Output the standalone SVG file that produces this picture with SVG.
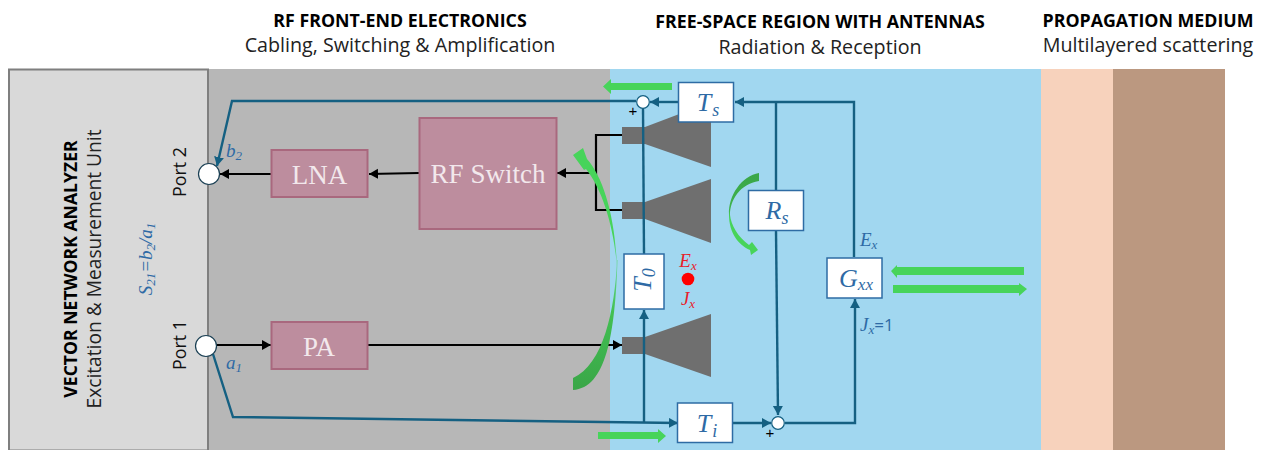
<svg xmlns="http://www.w3.org/2000/svg" width="1261" height="450" viewBox="0 0 1261 450">
<defs>
<marker id="ab" markerUnits="userSpaceOnUse" markerWidth="12" markerHeight="12" refX="9" refY="5" orient="auto"><path d="M0 0L9 5L0 10Z" fill="#000"/></marker>
<marker id="at" markerUnits="userSpaceOnUse" markerWidth="12" markerHeight="12" refX="9" refY="5" orient="auto"><path d="M0 0L9 5L0 10Z" fill="#156082"/></marker>
<linearGradient id="g0" gradientUnits="userSpaceOnUse" x1="0" y1="148" x2="0" y2="267"><stop offset="0" stop-color="#47d45a"/><stop offset="0.75" stop-color="#47d45a"/><stop offset="1" stop-color="#47d45a" stop-opacity="0.6"/></linearGradient>
<linearGradient id="g1" gradientUnits="userSpaceOnUse" x1="0" y1="260" x2="0" y2="390"><stop offset="0" stop-color="#47d45a" stop-opacity="0.6"/><stop offset="0.4" stop-color="#42c052"/><stop offset="1" stop-color="#3aa648"/></linearGradient>
<linearGradient id="g2" gradientUnits="userSpaceOnUse" x1="0" y1="173" x2="0" y2="255"><stop offset="0" stop-color="#3aa648"/><stop offset="0.45" stop-color="#3fb34d"/><stop offset="0.55" stop-color="#47d45a"/><stop offset="1" stop-color="#47d45a"/></linearGradient>
</defs>
<style>
text{font-family:"Open Sans","Noto Sans",sans-serif}
.h{font-size:17.800px;font-weight:700;text-anchor:middle;fill:#000}
.s{font-size:19.700px;text-anchor:middle;fill:#222}
.box{fill:#bd8d9e;stroke:#a9687e;stroke-width:2}
.lb{font-family:"Liberation Serif",serif;font-size:27px;fill:#f2e8ec;text-anchor:middle}
.t{fill:#fff;stroke:#2e6ca4;stroke-width:1.5}
.m{font-family:"Liberation Serif",serif;font-style:italic;fill:#2e6aa5}
.w{fill:none;stroke:#156082;stroke-width:2.4}
.k{fill:none;stroke:#000;stroke-width:2.2}
.horn{fill:#6f6f6f}
.g{fill:#47d45a}
.c{fill:#fff;stroke:#156082;stroke-width:1.2}
.p{font-family:"Liberation Sans",sans-serif;font-size:15px;text-anchor:middle;fill:#000}
.r{font-family:"Liberation Serif",serif;font-style:italic;font-size:19px;fill:#e8202a;text-anchor:middle}
</style>
<g id="backgrounds">
<rect x="208" y="69" width="402" height="381" fill="#b7b7b7"/>
<rect x="610" y="69" width="431" height="381" fill="#a1d7f0"/>
<rect x="1041" y="69" width="72" height="381" fill="#f7d2bc"/>
<rect x="1113" y="69" width="112" height="381" fill="#bb9880"/>
<rect x="9" y="69.500" width="199" height="381" fill="#d9d9d9" stroke="#7f7f7f" stroke-width="2"/>
</g>
<g id="headers">
<text class="h" x="400" y="27">RF FRONT-END ELECTRONICS</text>
<text class="s" x="400" y="52">Cabling, Switching &amp; Amplification</text>
<text class="h" x="820" y="28">FREE-SPACE REGION WITH ANTENNAS</text>
<text class="s" x="820" y="54">Radiation &amp; Reception</text>
<text class="h" x="1148" y="27">PROPAGATION MEDIUM</text>
<text class="s" x="1148" y="52">Multilayered scattering</text>
</g>
<g id="vna-labels">
<text transform="translate(77 269) rotate(-90)" font-size="17.600" font-weight="700" text-anchor="middle">VECTOR NETWORK ANALYZER</text>
<text transform="translate(101 269) rotate(-90)" font-size="19.200" text-anchor="middle" fill="#222">Excitation &amp; Measurement Unit</text>
<text class="m" transform="translate(152 259) rotate(-90)" font-size="19" text-anchor="middle">S<tspan font-size="13" dy="3">21</tspan><tspan dy="-3">=b</tspan><tspan font-size="13" dy="3">2</tspan><tspan dy="-3">/a</tspan><tspan font-size="13" dy="3">1</tspan></text>
<text transform="translate(186 172) rotate(-90)" font-size="17.800" text-anchor="middle" fill="#111">Port 2</text>
<text transform="translate(186 345) rotate(-90)" font-size="17.800" text-anchor="middle" fill="#111">Port 1</text>
</g>
<g id="horns">
<path class="horn" d="M622 127H645L711 102V167L645 144H622Z"/>
<path class="horn" d="M622 202H645L711 179V243L645 219H622Z"/>
<path class="horn" d="M622 337H645L711 314V377L645 354H622Z"/>
</g>
<g id="connectors">
<path class="k" d="M271 174H220" marker-end="url(#ab)"/>
<path class="k" d="M419 173L369 174" marker-end="url(#ab)"/>
<path class="k" d="M622 135H596V210H622"/>
<path class="k" d="M596 173H557" marker-end="url(#ab)"/>
<path class="k" d="M217 345H271" marker-end="url(#ab)"/>
<path class="k" d="M368 345H622" marker-end="url(#ab)"/>
<path class="w" d="M636 101H232L217 166" marker-end="url(#at)"/>
<path class="w" d="M678 102H650" marker-end="url(#at)"/>
<path class="w" d="M643 108L644 254"/>
<path class="w" d="M644 422V310" marker-end="url(#at)"/>
<path class="w" d="M213 354L233 417L678 423" marker-end="url(#at)"/>
<path class="w" d="M733 423H771" marker-end="url(#at)"/>
<path class="w" d="M785 423H855V299" marker-end="url(#at)"/>
<path class="w" d="M854 257V102H735" marker-end="url(#at)"/>
<path class="w" d="M776 102V190"/>
<path class="w" d="M776 231L778 415" marker-end="url(#at)"/>
</g>
<g id="port-2"><circle cx="209" cy="174" r="10.500" fill="#fff" stroke="#1b4054" stroke-width="1.200"/></g>
<g id="port-1"><circle cx="206" cy="346" r="10.500" fill="#fff" stroke="#1b4054" stroke-width="1.200"/></g>
<g id="lna"><rect class="box" x="271.500" y="150" width="96" height="47"/><text class="lb" x="319.500" y="184">LNA</text></g>
<g id="pa"><rect class="box" x="271.500" y="322" width="96" height="47"/><text class="lb" x="319" y="356">PA</text></g>
<g id="rf-switch"><rect class="box" x="419.500" y="118" width="137" height="111"/><text class="lb" x="488" y="183">RF Switch</text></g>
<g id="sum-top"><circle class="c" cx="643" cy="102" r="6.300"/><text class="p" x="633" y="116">+</text></g>
<g id="sum-bottom"><circle class="c" cx="778" cy="423" r="6.300"/><text class="p" x="770" y="438">+</text></g>
<g id="t-s"><rect class="t" x="678.500" y="82.500" width="55" height="39.500"/><text class="m" x="708" y="111" font-size="26" text-anchor="middle">T<tspan font-size="18" dy="5" dx="1">s</tspan></text></g>
<g id="r-s"><rect class="t" x="748.500" y="190.500" width="55" height="40"/><text class="m" x="777" y="219" font-size="26" text-anchor="middle">R<tspan font-size="18" dy="5">s</tspan></text></g>
<g id="g-xx"><rect class="t" x="827" y="258" width="55" height="40"/><text class="m" x="856" y="287" font-size="26" text-anchor="middle">G<tspan font-size="17" dy="3">xx</tspan></text></g>
<g id="t-i"><rect class="t" x="677.500" y="403" width="55" height="39.500"/><text class="m" x="707" y="432" font-size="26" text-anchor="middle">T<tspan font-size="18" dy="5" dx="1">i</tspan></text></g>
<g id="t-0"><rect class="t" x="624" y="254" width="40" height="55"/><text class="m" transform="translate(651 280) rotate(-90)" font-size="26" text-anchor="middle">T<tspan font-size="18" dy="4">0</tspan></text></g>
<g id="field-point">
<circle cx="688" cy="279" r="6.300" fill="#ff0000"/>
<text class="r" x="688" y="267">E<tspan font-size="13" dy="3">x</tspan></text>
<text class="r" x="688" y="305">J<tspan font-size="13" dy="3">x</tspan></text>
</g>
<g id="labels">
<text class="m" x="226" y="157" font-size="19">b<tspan font-size="13" dy="3">2</tspan></text>
<text class="m" x="226" y="369" font-size="19">a<tspan font-size="13" dy="3">1</tspan></text>
<text class="m" x="860" y="246" font-size="19">E<tspan font-size="13" dy="3">x</tspan></text>
<text class="m" x="860" y="331" font-size="19">J<tspan font-size="13" dy="3">x</tspan><tspan dy="-3" font-family="Open Sans" font-style="normal" font-size="17">=1</tspan></text>
</g>
<g id="flow-arrows">
<path class="g" d="M672 83V90H611V94L603 86.500L611 79V83Z"/>
<path class="g" d="M598 432H658V429L666 436L658 443V439H598Z"/>
<path class="g" d="M1024 267H897V265L891 271L897 278V275H1024Z"/>
<path class="g" d="M893 285H1019V283L1027 289L1019 296V293H893Z"/>
<path fill="url(#g0)" d="M573 155L583 148L587 159C603 177 615 215 617 267C614 230 604 192 586 169L584 170Z"/>
<path fill="url(#g1)" d="M617 260C615 310 603 365 573 378V390C606 388 615 335 617.500 260Z"/>
<path fill="url(#g2)" d="M759 173C742 176 728 195 729 215C729 232 738 245 750 250L751 255L758 250L752 242L749 245C738 237 731 225 730 215C730 200 740 184 759 181Z"/>
</g>
</svg>
